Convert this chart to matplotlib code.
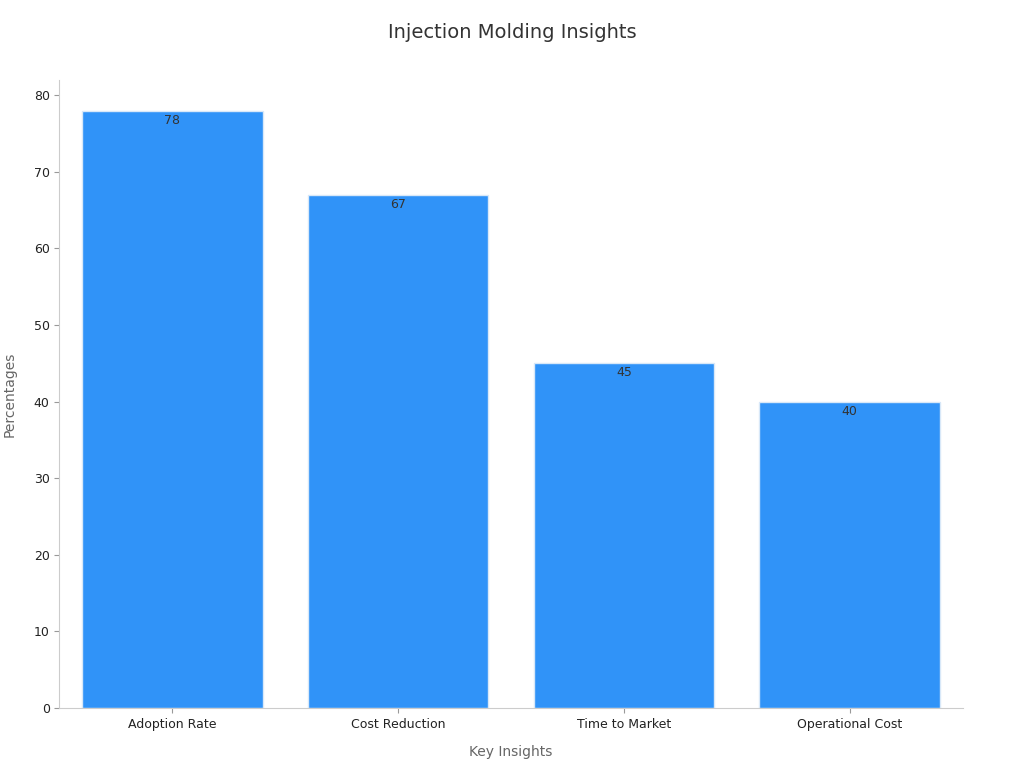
import matplotlib.pyplot as plt

categories = ["Adoption Rate", "Cost Reduction", "Time to Market", "Operational Cost"]
values = [78, 67, 45, 40]

fig = plt.figure(figsize=(10.24, 7.68), dpi=100)
ax = fig.add_axes([0.058, 0.078, 0.882, 0.818])
bars = ax.bar(categories, values, width=0.8, color="#3093f8", edgecolor="#d8e8f8", linewidth=1)
for b, v in zip(bars, values):
    ax.text(b.get_x() + b.get_width() / 2, v - 0.4, str(v), ha="center", va="top",
            fontsize=9, color="#333333")
ax.set_xlim(-0.5, 3.5)
ax.set_ylim(0, 82)
ax.set_yticks(range(0, 81, 10))
for s in ["top", "right"]:
    ax.spines[s].set_visible(False)
for s in ["left", "bottom"]:
    ax.spines[s].set_color("#cccccc")
ax.tick_params(colors="#222222", labelsize=9)
ax.tick_params(axis="both", color="#999999")
ax.set_xlabel("Key Insights", fontsize=10, color="#666666", labelpad=10)
ax.set_ylabel("Percentages", fontsize=10, color="#666666", labelpad=12)
fig.suptitle("Injection Molding Insights", y=0.97, fontsize=14, color="#333333")
fig.savefig("out.png")
